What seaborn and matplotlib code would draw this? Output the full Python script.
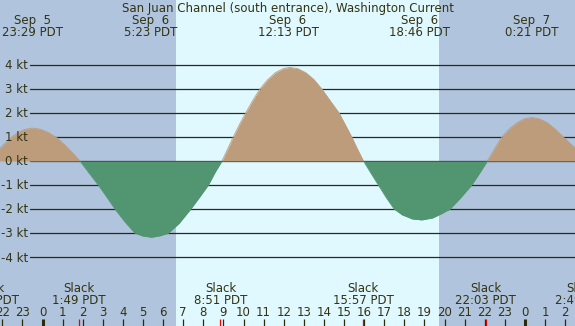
import matplotlib
matplotlib.use("Agg")
import matplotlib.pyplot as plt
import seaborn as sns
import pandas as pd

# ---------------- data ----------------
title = "San Juan Channel (south entrance), Washington Current"

# current curve, hours from Sep 6 00:00 PDT, knots (flood > 0, ebb < 0)
flood1_h = [-2.20, -2.11, -1.80, -1.53, -1.20, -0.90, -0.50, -0.10, 0.30, 0.71, 1.10, 1.50, 1.866]
flood1_kt = [0.47, 0.54, 0.79, 1.00, 1.19, 1.31, 1.37, 1.32, 1.18, 0.97, 0.67, 0.33, 0.0]
ebb1_h = [1.866, 2.30, 2.776, 3.20, 3.607, 4.10, 4.602, 5.00, 5.433, 5.85, 6.259,
          6.80, 7.373, 7.80, 8.249, 8.60, 8.93]
ebb1_kt = [0.0, -0.48, -1.00, -1.50, -2.00, -2.53, -3.00, -3.12, -3.17, -3.11, -3.00,
           -2.59, -2.00, -1.52, -1.00, -0.45, 0.0]
flood2_h = [8.93, 9.20, 9.493, 9.80, 10.109, 10.45, 10.821, 11.20, 11.60, 12.00, 12.313,
            12.70, 13.10, 13.50, 13.891, 14.30, 14.751, 15.07, 15.383, 15.68, 15.97]
flood2_kt = [0.0, 0.48, 1.00, 1.52, 2.00, 2.50, 3.00, 3.38, 3.68, 3.85, 3.89,
             3.84, 3.67, 3.39, 3.00, 2.52, 2.00, 1.50, 1.00, 0.48, 0.0]
ebb2_h = [15.97, 16.35, 16.71, 17.10, 17.50, 17.90, 18.40, 18.87, 19.40, 19.85, 20.27,
          20.80, 21.35, 21.75, 22.13]
ebb2_kt = [0.0, -0.52, -1.00, -1.52, -2.00, -2.24, -2.41, -2.45, -2.37, -2.19, -2.00,
           -1.53, -1.00, -0.50, 0.0]
flood3_h = [22.13, 22.50, 22.85, 23.25, 23.70, 24.00, 24.34, 24.70, 25.10, 25.50, 25.91,
            26.20, 26.49, 26.60]
flood3_kt = [0.0, 0.52, 1.00, 1.36, 1.64, 1.76, 1.81, 1.76, 1.60, 1.33, 1.00,
             0.77, 0.55, 0.47]

# maximum current events (top labels)
max_day = [5, 6, 6, 6, 7]
max_clock = ["23:29", "5:23", "12:13", "18:46", "0:21"]

# slack events (bottom labels)
slack_day = [5, 6, 6, 6, 6, 7]
slack_clock = ["21:20", "1:49", "8:51", "15:57", "22:03", "2:49"]

# sunrise / sunset on Sep 6
sunrise_clock = "6:38"
sunset_clock = "19:44"

# y grid levels (kt) and visible hour range
kt_levels = [-4, -3, -2, -1, 0, 1, 2, 3, 4]
hour_ticks = list(range(-2, 27))

# ---------------- styling ----------------
W, H = 575, 326
night_col = "#b0c4de"
day_col = "#e0f8ff"
flood_col = "#bd9c7b"
ebb_col = "#519571"
text_col = "#333311"
line_col = "#2a2a0c"
fs = 8.5

sns.set_theme(style="white")
plt.rcParams["font.family"] = ["DejaVu Sans"]


def to_hours(day, clock):
    hh, mm = clock.split(":")
    return (day - 6) * 24 + int(hh) + int(mm) / 60.0


# x scale: hour 0 at px 42.5, 20.1 px per hour
px_per_h = 20.1
x0_px = 42.5
xlim = (-x0_px / px_per_h, (W - x0_px) / px_per_h)
# y scale: 0 kt at px 161 from top, 24.05 px per knot
zero_px = 161.0
px_per_kt = 24.05
ylim = ((zero_px - H) / px_per_kt, zero_px / px_per_kt)

fig = plt.figure(figsize=(W / 100, H / 100), dpi=100)
ax = fig.add_axes([0, 0, 1, 1])
ax.set_xlim(*xlim)
ax.set_ylim(*ylim)
ax.set_axis_off()

# background night/day
sr = to_hours(6, sunrise_clock)
ss = to_hours(6, sunset_clock)
ax.axvspan(xlim[0], sr, color=night_col, lw=0, zorder=0)
ax.axvspan(sr, ss, color=day_col, lw=0, zorder=0)
ax.axvspan(ss, xlim[1], color=night_col, lw=0, zorder=0)

# horizontal grid lines
for v in kt_levels:
    ax.axhline(v, xmin=30 / W, xmax=1, color=line_col, lw=0.9, zorder=1)
    ax.text(28 / W, v - 4.3 / px_per_kt, f"{v} kt", transform=ax.get_yaxis_transform(),
            ha="right", va="baseline", fontsize=fs, color=text_col, zorder=3)

# current curve
lobes = [("flood", flood1_h, flood1_kt), ("ebb", ebb1_h, ebb1_kt),
         ("flood", flood2_h, flood2_kt), ("ebb", ebb2_h, ebb2_kt),
         ("flood", flood3_h, flood3_kt)]
rows = []
for i, (kind, hs, ks) in enumerate(lobes):
    ax.fill_between(hs, ks, 0, color=flood_col if kind == "flood" else ebb_col,
                    lw=0, zorder=2)
    for h_, k_ in zip(hs, ks):
        rows.append({"hour": h_, "kt": k_, "dir": kind, "lobe": i})
df = pd.DataFrame(rows)
sns.lineplot(data=df, x="hour", y="kt", hue="dir", units="lobe", estimator=None,
             palette={"flood": flood_col, "ebb": ebb_col}, lw=0.6, legend=False,
             ax=ax, zorder=2, sort=False)
ax.set_xlim(*xlim)
ax.set_ylim(*ylim)
ax.set_axis_off()

xt = ax.get_xaxis_transform()


def fy(px):
    return 1 - px / H


# title and max labels
ax.text(0.5, fy(11.8), title, transform=ax.transAxes, ha="center", va="baseline",
        fontsize=fs, color=text_col)
for d, c in zip(max_day, max_clock):
    h = to_hours(d, c)
    ax.text(h, fy(23.6), f"Sep  {d}", transform=xt, ha="center", va="baseline",
            fontsize=fs, color=text_col, clip_on=False)
    ax.text(h, fy(35.8), f"{c} PDT", transform=xt, ha="center", va="baseline",
            fontsize=fs, color=text_col, clip_on=False)

# slack labels and red ticks
for d, c in zip(slack_day, slack_clock):
    h = to_hours(d, c)
    ax.text(h, fy(292.0), "Slack", transform=xt, ha="center", va="baseline",
            fontsize=fs, color=text_col)
    ax.text(h, fy(303.6), f"{c} PDT", transform=xt, ha="center", va="baseline",
            fontsize=fs, color=text_col)
    ax.plot([h, h], [0, fy(318.5)], transform=xt, color="#ee0000", lw=0.9,
            solid_capstyle="butt", zorder=4)

# hour ticks and labels
for hr in hour_ticks:
    ax.text(hr, fy(316.2), str(hr % 24), transform=xt, ha="center", va="baseline",
            fontsize=fs, color=text_col)
    ax.plot([hr, hr], [0, fy(318.5)], transform=xt, color=line_col,
            lw=2.2 if hr % 24 == 0 else 0.9, solid_capstyle="butt", zorder=4)

fig.savefig("out.png", dpi=100)
